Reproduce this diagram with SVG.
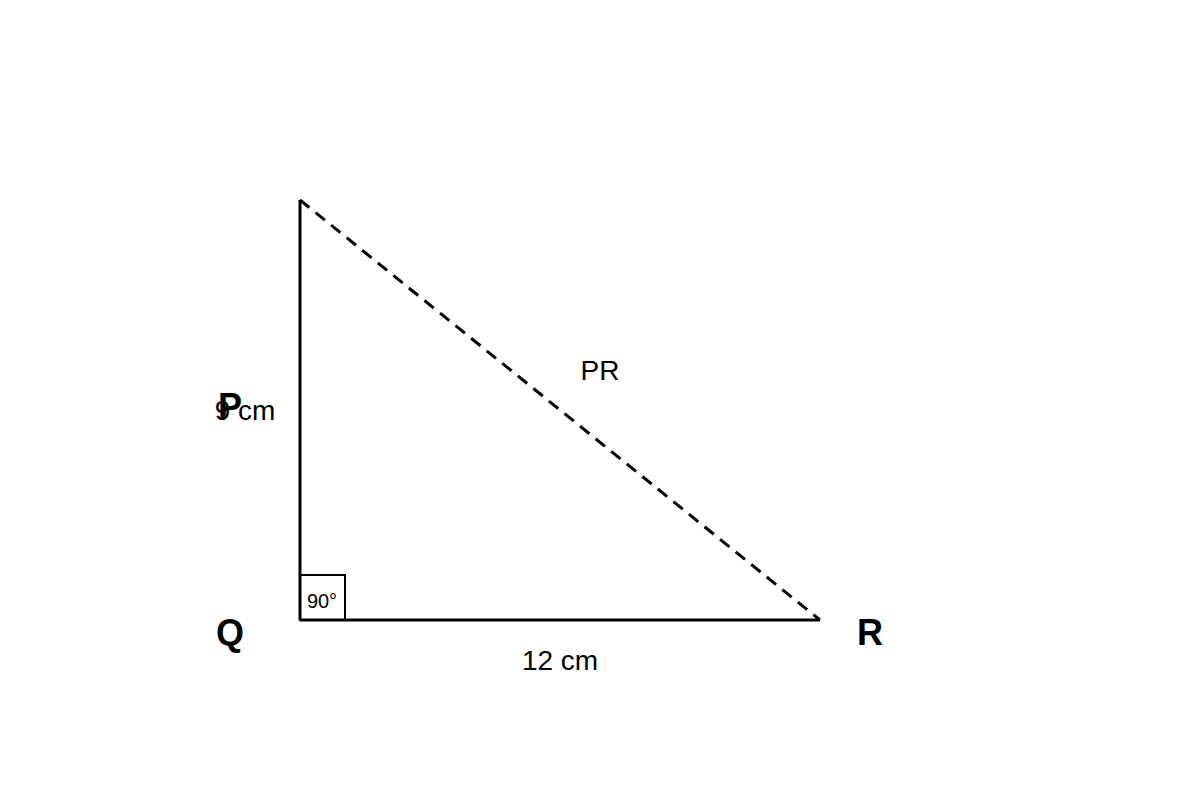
<svg xmlns="http://www.w3.org/2000/svg" width="1200" height="800" viewBox="0 0 1200 800">
<style>
.side{stroke:#000;stroke-width:3;fill:none}
.dash{stroke:#000;stroke-width:3;fill:none;stroke-dasharray:12,8}
.vlabel{font-family:"Liberation Sans",Arial,sans-serif;font-weight:bold;font-size:36px;fill:#000;text-anchor:middle}
.mlabel{font-family:"Liberation Sans",Arial,sans-serif;font-size:28px;fill:#000;text-anchor:middle}
.small{font-family:"Liberation Sans",Arial,sans-serif;font-size:20px;fill:#000;text-anchor:middle}
</style>
<rect width="1200" height="800" fill="#fff"/>
<g id="connectors">
<line class="side" x1="300" y1="200" x2="300" y2="620"/>
<line class="side" x1="300" y1="620" x2="820" y2="620"/>
<line class="dash" x1="300" y1="200" x2="820" y2="620"/>
</g>
<g id="right-angle">
<rect x="300" y="575" width="45" height="45" fill="none" stroke="#000" stroke-width="2"/>
<text class="small" x="322" y="608">90°</text>
</g>
<g id="P"><text class="vlabel" x="230" y="419">P</text></g>
<g id="Q"><text class="vlabel" x="230" y="645">Q</text></g>
<g id="R"><text class="vlabel" x="870" y="645">R</text></g>
<g id="labels">
<text class="mlabel" x="245" y="420">9 cm</text>
<text class="mlabel" x="560" y="670">12 cm</text>
<text class="mlabel" x="600" y="380">PR</text>
</g>
</svg>
